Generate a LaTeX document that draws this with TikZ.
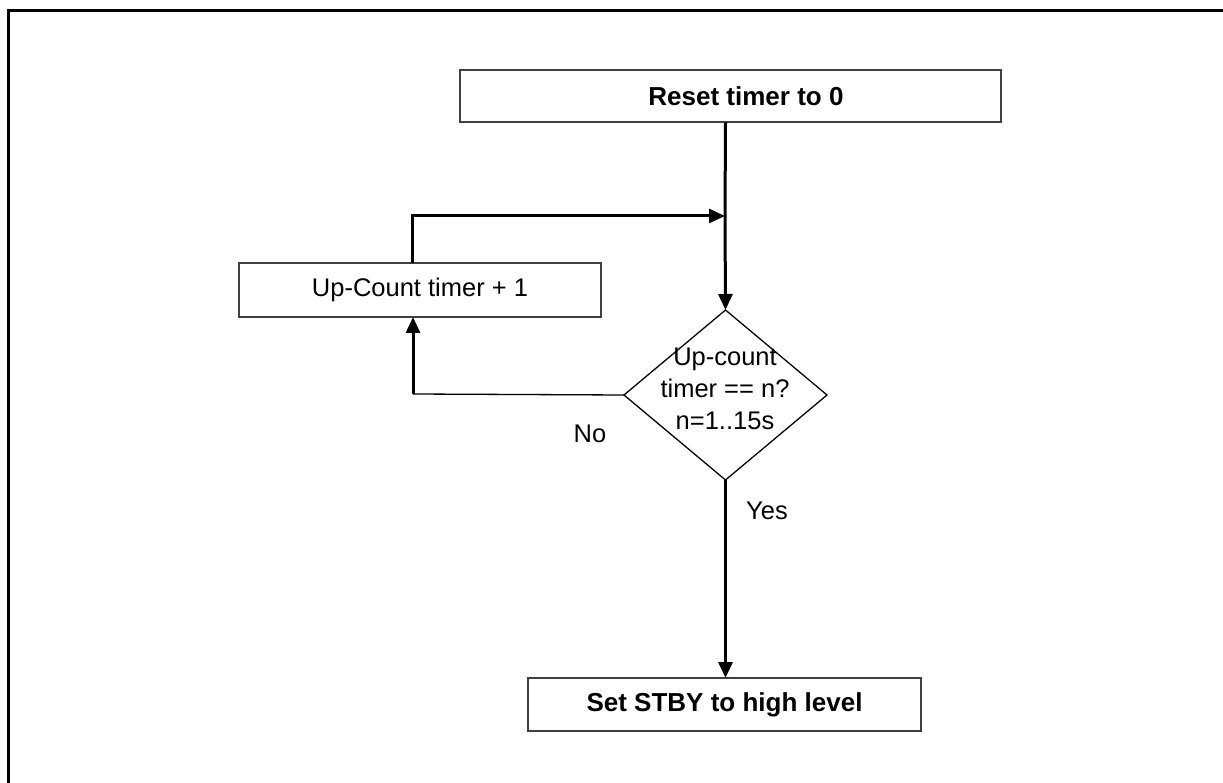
\documentclass[tikz,border=0pt]{standalone}
\usepackage{fontspec}
\setmainfont{Liberation Sans}
\usetikzlibrary{arrows.meta,shapes.geometric}

\begin{document}
\begin{tikzpicture}[x=1pt,y=-1pt,>={Triangle[length=16pt,width=14pt]},
  box/.style={draw=black!75,line width=2pt,inner sep=0pt,outer sep=0pt},
  flow/.style={line width=3pt},
  txt/.style={font=\fontsize{25.5}{31}\selectfont},
  boldtxt/.style={font=\fontsize{26}{31}\selectfont\bfseries}]
\useasboundingbox (0,0) rectangle (1223,783);
\draw[line width=3pt] (8,783) -- (8,11) -- (1223,11);
\node[box,minimum width=541pt,minimum height=52pt,boldtxt] (reset) at (730.5,96.5) {\hspace*{31pt}Reset timer to 0};
\node[box,minimum width=362pt,minimum height=54pt,txt] (upcount) at (420,290) {Up-Count timer + 1};
\node[diamond,draw,line width=1.3pt,minimum width=203pt,minimum height=170pt,inner sep=0pt,outer sep=0pt] (test) at (725.5,395) {};
\node[txt,align=center] (testtext) at (725,389) {Up-count\\[1pt]timer == n?\\[1pt]n=1..15s};
\node[box,minimum width=393pt,minimum height=53pt,boldtxt] (stby) at (724.5,704.5) {Set STBY to high level};
\node[txt] (no) at (590,434) {No};
\node[txt] (yes) at (767,511) {Yes};
\coordinate (join) at (725,216);
\coordinate (loopup) at (412,216);
\coordinate (noturn) at (413,394);
\draw[flow] (reset.south -| test.north) -- (join);
\draw[flow,->] (join) -- (test.north);
\draw[flow,->] (upcount.north -| loopup) -- (loopup) -- (join);
\draw[line width=1.3pt] (test.west) -- (noturn);
\draw[flow,->] (noturn) -- (upcount.south -| noturn);
\draw[flow,->] (test.south) -- (stby.north -| test.south);
\end{tikzpicture}
\end{document}
